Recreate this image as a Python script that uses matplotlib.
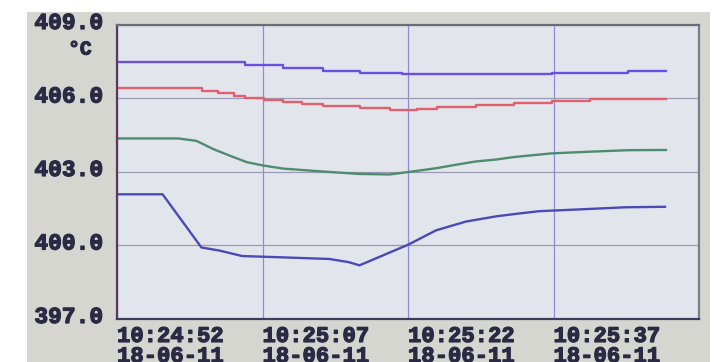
import matplotlib
matplotlib.use('Agg')
import matplotlib.pyplot as plt
import matplotlib.transforms as mtransforms
import matplotlib.patheffects as pe
from matplotlib.patches import Rectangle

# seconds since 10:24:52 and temperature readings, four channels
purple_t = [0, 13.2, 17.1, 21.2, 25.0, 29.4, 44.8, 52.7, 56.6]
purple_v = [407.48, 407.35, 407.23, 407.13, 407.04, 406.98, 407.05, 407.11, 407.11]

red_t = [0, 8.8, 10.4, 12.1, 13.2, 15.2, 17.1, 19.1, 21.2, 25.0, 28.1, 30.9,
         33.0, 37.0, 40.9, 44.8, 48.8, 56.6]
red_v = [406.41, 406.32, 406.23, 406.12, 406.03, 405.94, 405.87, 405.78, 405.70,
         405.62, 405.52, 405.59, 405.65, 405.73, 405.81, 405.89, 405.97, 405.97]

green_t = [0, 6.3, 8.2, 9.9, 11.6, 13.4, 15.0, 17.1, 21.2, 25.0, 28.1, 30.8,
           33.0, 35.0, 37.0, 39.1, 40.9, 43.0, 44.8, 48.8, 52.7, 56.6]
green_v = [404.37, 404.37, 404.27, 403.94, 403.67, 403.40, 403.27, 403.14, 403.02,
           402.92, 402.90, 403.04, 403.16, 403.30, 403.43, 403.51, 403.61, 403.69,
           403.76, 403.83, 403.89, 403.90]

blue_t = [0, 4.7, 8.7, 10.6, 12.9, 16.8, 21.9, 23.9, 25.0, 30.0, 32.9, 36.0,
          39.1, 41.1, 43.5, 48.6, 52.4, 56.5]
blue_v = [402.09, 402.09, 399.92, 399.79, 399.57, 399.52, 399.45, 399.32, 399.19,
          400.03, 400.62, 400.98, 401.19, 401.29, 401.40, 401.49, 401.56, 401.58]

x_ticks = [0, 15, 30, 45]
time_labels = ['10:24:52', '10:25:07', '10:25:22', '10:25:37']
date_label = '18-06-11'
y_ticks = [397, 400, 403, 406, 409]
unit = '°C'

txt_color = '#2a2a44'
font = 'Liberation Mono'
# lcd font is heavier than the regular bold face
heavy = [pe.withStroke(linewidth=0.9, foreground=txt_color)]

fig = plt.figure(figsize=(7.17, 3.62), dpi=100)
fig.patch.set_facecolor('white')
# grey screen area
fig.add_artist(Rectangle((27 / 717, 0), 683 / 717, 350 / 362, transform=fig.transFigure,
                         facecolor='#d6d6d1', edgecolor='none', zorder=-5))

ax = fig.add_axes([117 / 717, 1 - 319 / 362, 582 / 717, 294 / 362])
ax.set_facecolor('#e3e5ed')

ax.plot(purple_t, purple_v, color='#6b4fe0', lw=1.7, drawstyle='steps-post')
ax.plot(red_t, red_v, color='#e0606e', lw=1.7, drawstyle='steps-post')
ax.plot(green_t, green_v, color='#4e8c6e', lw=1.7)
ax.plot(blue_t, blue_v, color='#4a4ab4', lw=1.7)

ax.set_xlim(0, 60)
ax.set_ylim(397, 409)
ax.set_xticks(x_ticks)
ax.set_xticklabels(time_labels)
ax.set_yticks(y_ticks)
ax.set_yticklabels(['%.1f' % v for v in y_ticks])

ax.xaxis.grid(True, color='#8c8cd6', lw=0.9)
ax.yaxis.grid(True, color='#9a9ab4', lw=0.9)
ax.set_axisbelow(True)
ax.tick_params(length=0)
ax.tick_params(axis='x', pad=5)
ax.tick_params(axis='y', pad=10)

for lab in ax.get_xticklabels():
    lab.set_fontfamily(font)
    lab.set_fontweight('bold')
    lab.set_fontsize(16)
    lab.set_color(txt_color)
    lab.set_horizontalalignment('left')
    lab.set_path_effects(heavy)

# date line under each time label
for t in x_ticks:
    ax.annotate(date_label, xy=(t, 0), xycoords=ax.get_xaxis_transform(),
                xytext=(0, -19.5), textcoords='offset points', ha='left', va='top',
                fontsize=16, family=font, fontweight='bold', color=txt_color,
                path_effects=heavy, annotation_clip=False)

shift = mtransforms.ScaledTranslation(0, 5 / 100, fig.dpi_scale_trans)
for lab in ax.get_yticklabels():
    lab.set_fontfamily(font)
    lab.set_fontweight('bold')
    lab.set_fontsize(16.5)
    lab.set_color(txt_color)
    lab.set_transform(lab.get_transform() + shift)
    lab.set_path_effects(heavy)

ax.spines['left'].set_color('#5a3a58')
ax.spines['bottom'].set_color('#3c3c5c')
ax.spines['top'].set_color('#6e6e72')
ax.spines['right'].set_color('#7c7c8c')
for s in ax.spines.values():
    s.set_linewidth(1.6)

fig.text(80 / 717, 1 - 50 / 362, unit, ha='center', va='center', fontsize=14,
         family=font, fontweight='bold', color=txt_color, path_effects=heavy)

# white strip above the screen edge
fig.add_artist(Rectangle((0, 350 / 362), 1, 12 / 362, transform=fig.transFigure,
                         facecolor='white', edgecolor='none', zorder=10))

fig.savefig('out.png', dpi=100)
